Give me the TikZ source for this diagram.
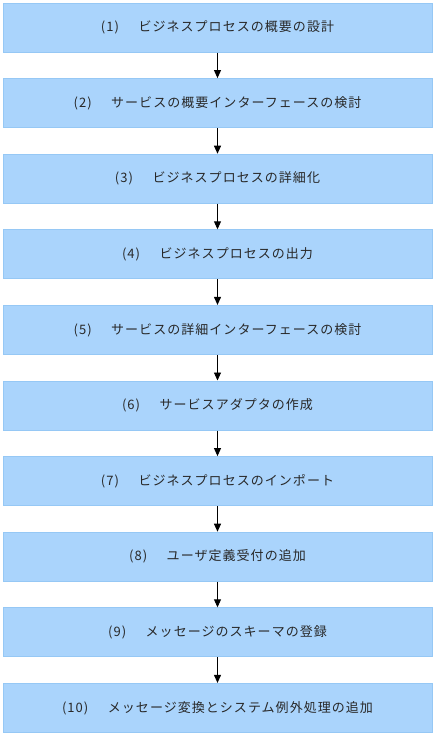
\documentclass[tikz,border=0pt]{standalone}
\usepackage{fontspec}
\newfontfamily\jp[LetterSpace=8]{Noto Sans CJK JP}
\usetikzlibrary{arrows.meta}
\definecolor{boxfill}{RGB}{170,212,252}
\definecolor{boxline}{RGB}{150,200,245}
\definecolor{txt}{RGB}{40,40,40}
\begin{document}
\begin{tikzpicture}[x=1pt,y=-1pt,
  stepbox/.style={draw=boxline,fill=boxfill,line width=1pt,minimum width=429pt,minimum height=49pt,inner sep=0pt,
    font=\jp\fontsize{13}{15}\selectfont,text=txt},
  flow/.style={-{Triangle[length=8pt,width=7pt]},line width=0.9pt,black}]
\useasboundingbox (0,0) rectangle (435,736);
\foreach \i/\t [count=\k from 0] in {
  1/ビジネスプロセスの概要の設計,
  2/サービスの概要インターフェースの検討,
  3/ビジネスプロセスの詳細化,
  4/ビジネスプロセスの出力,
  5/サービスの詳細インターフェースの検討,
  6/サービスアダプタの作成,
  7/ビジネスプロセスのインポート,
  8/ユーザ定義受付の追加,
  9/メッセージのスキーマの登録,
  10/メッセージ変換とシステム例外処理の追加}{
  \node[stepbox] (b\i) at (217.5,{27.5+75.6*\k}) {(\i)\hspace{1.5em}\t};
}
\foreach \a/\b in {1/2,2/3,3/4,4/5,5/6,6/7,7/8,8/9,9/10}{
  \draw[flow] (b\a.south) -- (b\b.north);
}
\end{tikzpicture}
\end{document}
